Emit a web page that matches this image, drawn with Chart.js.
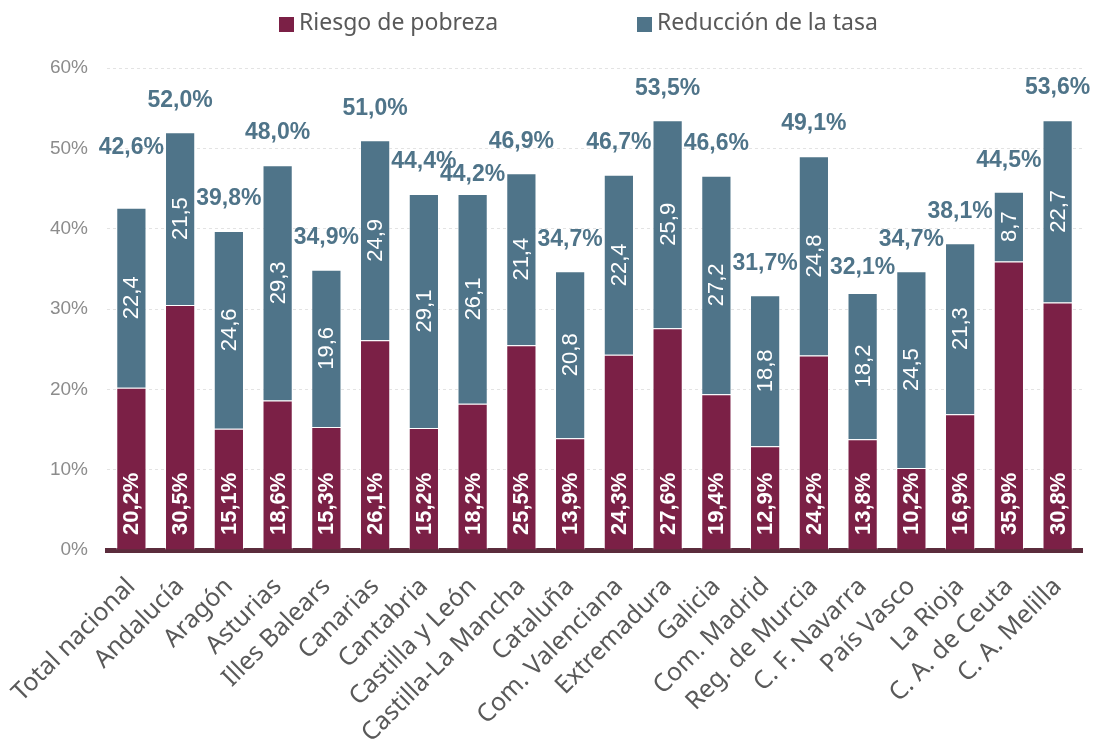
<!DOCTYPE html>
<html>
<head>
<meta charset="utf-8">
<script src="https://cdn.jsdelivr.net/npm/chart.js@4.4.1/dist/chart.umd.min.js"></script>
<style>
  html, body { margin: 0; padding: 0; background: #ffffff; }
  #wrap { width: 1094px; height: 740px; position: relative; }
</style>
</head>
<body>
<div id="wrap"><canvas id="c" width="1094" height="740"></canvas></div>
<script>
const categories = ["Total nacional", "Andalucía", "Aragón", "Asturias", "Illes Balears", "Canarias", "Cantabria", "Castilla y León", "Castilla-La Mancha", "Cataluña", "Com. Valenciana", "Extremadura", "Galicia", "Com. Madrid", "Reg. de Murcia", "C. F. Navarra", "País Vasco", "La Rioja", "C. A. de Ceuta", "C. A. Melilla"];
const riesgoPobreza = [20.2, 30.5, 15.1, 18.6, 15.3, 26.1, 15.2, 18.2, 25.5, 13.9, 24.3, 27.6, 19.4, 12.9, 24.2, 13.8, 10.2, 16.9, 35.9, 30.8];
const reduccionTasa = [22.4, 21.5, 24.6, 29.3, 19.6, 24.9, 29.1, 26.1, 21.4, 20.8, 22.4, 25.9, 27.2, 18.8, 24.8, 18.2, 24.5, 21.3, 8.7, 22.7];
const totales = [42.6, 52.0, 39.8, 48.0, 34.9, 51.0, 44.4, 44.2, 46.9, 34.7, 46.7, 53.5, 46.6, 31.7, 49.1, 32.1, 34.7, 38.1, 44.5, 53.6];
const yTicks = [0, 10, 20, 30, 40, 50, 60];

const COL_RED = "#7B2046";
const COL_BLUE = "#4F7489";
const TXT_GRAY = "#595959";
const fmt = v => v.toFixed(1).replace(".", ",");

// style: extra vertical nudge (px) for a few manually placed total labels
const totalNudge = { 0: 28, 7: -12, 15: -8 };

const labelPlugin = {
  id: "labels",
  afterDatasetsDraw(chart) {
    const ctx = chart.ctx;
    const y = chart.scales.y;
    const m0 = chart.getDatasetMeta(0);
    const m1 = chart.getDatasetMeta(1);
    ctx.save();
    ctx.fillStyle = "#ffffff";
    ctx.font = "bold 22px 'Liberation Sans', Arial, sans-serif";
    ctx.textBaseline = "middle";
    m0.data.forEach((bar, i) => {
      ctx.save();
      ctx.translate(bar.x + 1, y.getPixelForValue(0) - 15);
      ctx.rotate(-Math.PI / 2);
      ctx.textAlign = "left";
      ctx.fillText(fmt(riesgoPobreza[i]) + "%", 0, 0);
      ctx.restore();
    });
    ctx.font = "22px 'Liberation Sans', Arial, sans-serif";
    m1.data.forEach((bar, i) => {
      const yc = (bar.y + bar.base) / 2;
      ctx.save();
      ctx.translate(bar.x + 1, yc);
      ctx.rotate(-Math.PI / 2);
      ctx.textAlign = "center";
      ctx.fillText(fmt(reduccionTasa[i]), 0, 0);
      ctx.restore();
    });
    ctx.fillStyle = COL_BLUE;
    ctx.font = "bold 23px 'Liberation Sans', Arial, sans-serif";
    ctx.textAlign = "center";
    m1.data.forEach((bar, i) => {
      const yy = y.getPixelForValue(totales[i]) - 32 - (totalNudge[i] || 0);
      ctx.fillText(fmt(totales[i]) + "%", bar.x, yy);
    });
    ctx.restore();
  }
};

const legendPlugin = {
  id: "customLegend",
  afterDraw(chart) {
    const ctx = chart.ctx;
    ctx.save();
    ctx.font = "23px 'Noto Sans', 'Open Sans', sans-serif";
    ctx.textBaseline = "middle";
    ctx.textAlign = "left";
    const items = chart.data.datasets.map(d => ({ label: d.label, color: d.backgroundColor }));
    const xs = [279, 637];
    items.forEach((it, k) => {
      ctx.fillStyle = it.color;
      ctx.fillRect(xs[k], 17, 15, 15);
      ctx.fillStyle = TXT_GRAY;
      ctx.fillText(it.label, xs[k] + 20, 23);
    });
    ctx.restore();
  }
};

new Chart(document.getElementById("c"), {
  type: "bar",
  data: {
    labels: categories,
    datasets: [
      { label: "Riesgo de pobreza", data: riesgoPobreza, backgroundColor: COL_RED, borderColor: "rgba(255,255,255,0.55)", borderWidth: 1, categoryPercentage: 1, barPercentage: 0.62 },
      { label: "Reducción de la tasa", data: reduccionTasa, backgroundColor: COL_BLUE, borderColor: "rgba(255,255,255,0.55)", borderWidth: 1, categoryPercentage: 1, barPercentage: 0.62 }
    ]
  },
  options: {
    responsive: false,
    animation: false,
    layout: { padding: { top: 68, right: 12, left: 0, bottom: 0 } },
    plugins: { legend: { display: false }, tooltip: { enabled: false } },
    scales: {
      x: {
        stacked: true,
        grid: { display: false },
        border: { display: true, color: "#5B2C3C", width: 5 },
        ticks: {
          color: TXT_GRAY,
          font: { family: "'Noto Sans', 'Open Sans', sans-serif", size: 25 },
          maxRotation: 45, minRotation: 45, padding: 14, autoSkip: false
        },
        afterFit(s) { s.height = 190; }
      },
      y: {
        stacked: true,
        min: 0, max: 60,
        afterBuildTicks(s) { s.ticks = yTicks.map(v => ({ value: v })); },
        grid: { color: "#e3e3e3", borderDash: [3, 3], drawTicks: false },
        border: { display: false, dash: [3, 3] },
        ticks: {
          color: "#8c8c8c",
          font: { family: "'Liberation Sans', Arial, sans-serif", size: 19 },
          padding: 19,
          callback: v => v + "%"
        },
        afterFit(s) { s.width = 106; }
      }
    }
  },
  plugins: [labelPlugin, legendPlugin]
});
</script>
</body>
</html>
